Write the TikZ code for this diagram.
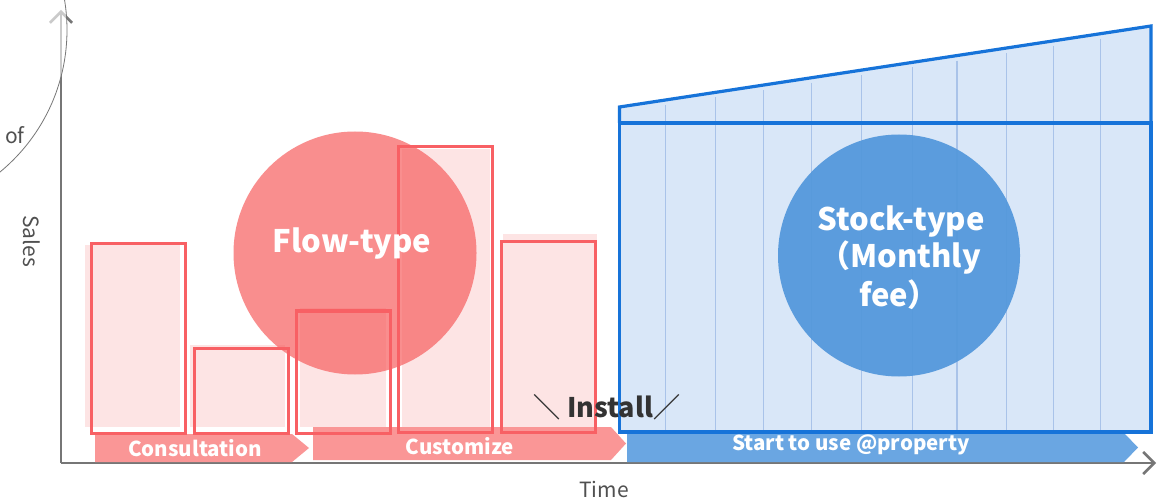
\documentclass[tikz,border=0pt]{standalone}
\usepackage{fontspec}
\newfontfamily\jp{Noto Sans CJK JP}
\usetikzlibrary{arrows.meta,calc}

\definecolor{axisgray}{HTML}{767676}
\definecolor{labelgray}{HTML}{505050}
\definecolor{barred}{HTML}{F86064}
\definecolor{bandpink}{HTML}{FA9696}
\definecolor{flowred}{HTML}{F98E8E}
\definecolor{stockfill}{HTML}{D9E7F8}
\definecolor{stockline}{HTML}{1673D9}
\definecolor{gridblue}{HTML}{A9C3E9}
\definecolor{stockcirc}{HTML}{5297DB}
\definecolor{bandblue}{HTML}{6AA6E2}
\definecolor{installgray}{HTML}{333333}

\tikzset{
  axis/.style={draw=axisgray, line width=2.8pt,
    -{Straight Barb[length=11pt, width=22pt, line width=2.6pt]}},
  barbox/.style={draw=barred, line width=3pt},
  barshade/.style={fill=barred, fill opacity=0.17},
  band/.style={fill=bandpink},
  bandtext/.style={text=white, font=\jp\bfseries\fontsize{20.5}{20.5}\selectfont, anchor=base},
  bigtext/.style={text=white, font=\jp\bfseries\fontsize{31}{31}\selectfont, anchor=base},
  axistext/.style={text=labelgray, font=\jp\fontsize{21}{21}\selectfont, anchor=base},
  gridline/.style={draw=gridblue, line width=1.3pt},
  stockedge/.style={draw=stockline, line width=3.2pt, line join=miter},
}

\begin{document}
\begin{tikzpicture}[x=1pt, y=-1pt]
\useasboundingbox (0,0) rectangle (1158,502);
\fill[white] (0,0) rectangle (1158,502);

% axes
\coordinate (origin) at (61,463);
\coordinate (ytop) at (61,10);
\coordinate (xend) at (1156,463);
\draw[axis] (origin) -- (ytop);
\draw[axis] (origin) -- (xend);

% phase bands along the time axis
\fill[band] (95,434) -- (292,434) -- (309,448) -- (292,462) -- (95,462) -- cycle;
\fill[band] (313,427) -- (611,427) -- (626,443.5) -- (611,460) -- (313,460) -- cycle;
\fill[bandblue] (627,433) -- (1124,433) -- (1138,447.5) -- (1124,462) -- (627,462) -- cycle;

% flow-type circle
\node[circle, fill=flowred, minimum size=243pt, inner sep=0pt] (flow) at (355,253) {};

% sales bars
\foreach \fa/\fb/\fc/\fd/\oa/\ob/\oc/\od in {
  85/245/180/427/91/244/185/433,
  190/345/285/427/194/348/288/433,
  300/308/386/427/296/311/390/433,
  402/149/490/427/398/147/492/432,
  503/234/597/427/501/242/595/432}{
  \fill[barshade] (\fa,\fb) rectangle (\fc,\fd);
  \draw[barbox] (\oa,\ob) rectangle (\oc,\od);
}

\node[bigtext] (flowlabel) at (352,252.5) {Flow-type};

% stock-type area
\fill[stockfill] (619.5,107) -- (1151,26) -- (1151,432) -- (619.5,432) -- cycle;
\foreach \x in {665.8,715.7,763.7,811.7,861.6,912.5,957,1006.4,1053.7,1100.7}{
  \pgfmathsetmacro\yt{107-(\x-619.5)*0.1524+5}
  \draw[gridline] (\x,\yt) -- (\x,432);
}
\draw[stockedge] (619.5,123) -- (619.5,107) -- (1151,26) -- (1151,123);
\draw[stockedge] (619.5,123) rectangle (1151,432);

\node[circle, fill=stockcirc, fill opacity=0.93, minimum size=242pt, inner sep=0pt] (stock) at (899,255.5) {};
\node[bigtext] (stock1) at (901,231) {Stock-type};
\node[bigtext] (stock2) at (900,268) {（Monthly};
\node[bigtext] (stock3) at (899,306) {fee）};

% band labels
\node[bandtext] (consult) at (195,456) {Consultation};
\node[bandtext] (custom) at (460,454) {Customize};
\node[bandtext] (startuse) at (851,450) {Start to use @property};

\node[text=installgray, font=\jp\bfseries\fontsize{27}{27}\selectfont, anchor=base] (install) at (607,417) {＼ Install／};

% axis labels
\node[axistext] (time) at (604,497) {Time};
\node[axistext, rotate=-90, anchor=center] (sales) at (32,241) {Sales};

% caption bubble at the top left
\draw[draw=axisgray, line width=0.8pt, fill=white, fill opacity=0.62] (-117,30) circle[radius=184pt];
\node[axistext] (of) at (15,144) {of};
\end{tikzpicture}
\end{document}
